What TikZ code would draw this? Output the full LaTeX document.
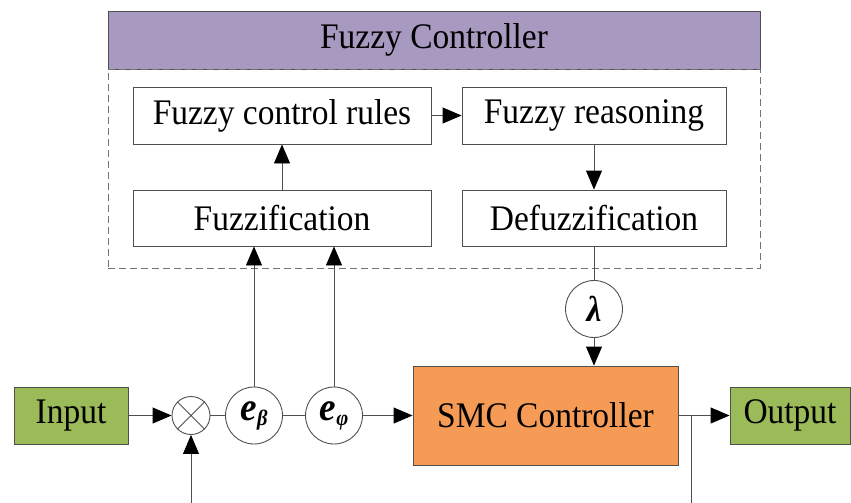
\documentclass[tikz,border=0pt]{standalone}
\usepackage{fontspec}
\setmainfont{Liberation Serif}[FakeStretch=0.93]
\usetikzlibrary{arrows.meta}
\definecolor{hdrpurple}{RGB}{168,153,192}
\definecolor{boxgreen}{RGB}{155,187,89}
\definecolor{smcorange}{RGB}{245,155,85}
\definecolor{linegray}{RGB}{80,80,80}
\begin{document}
\begin{tikzpicture}[x=1pt,y=-1pt,
  every node/.style={font=\fontsize{36}{42}\selectfont},
  blk/.style={draw=linegray,line width=0.9pt,rectangle,inner sep=0pt,minimum height=57pt},
  rnd/.style={draw=linegray,line width=0.9pt,circle,inner sep=0pt,minimum size=57pt},
  conn/.style={draw=linegray,line width=0.9pt},
  arr/.style={conn,-{Triangle[length=19pt,width=16pt,color=black]}}
]
\useasboundingbox (0,0) rectangle (851,503);
% header and dashed frame
\node[draw=linegray,line width=0.9pt,fill=hdrpurple,rectangle,minimum width=652pt,minimum height=58pt,inner sep=0pt] (hdr) at (434,40) {Fuzzy Controller};
\node[draw=linegray!80,line width=0.9pt,dash pattern=on 7pt off 4pt,rectangle,minimum width=652pt,minimum height=199pt,inner sep=0pt] (frame) at (434,168.5) {};
% fuzzy blocks
\node[blk,minimum width=298pt] (rules) at (282,115.5) {Fuzzy control rules};
\node[blk,minimum width=264pt] (reason) at (594,115.5) {Fuzzy reasoning};
\node[blk,minimum width=298pt,minimum height=56pt] (fuzz) at (282,218) {Fuzzification};
\node[blk,minimum width=264pt,minimum height=56pt] (defuzz) at (594,218) {Defuzzification};
% lambda
\node[rnd] (lam) at (594,309) {\textbf{\textit{λ}}};
% main loop
\node[blk,fill=boxgreen,minimum width=114pt] (in) at (71,415.5) {Input};
\node[draw=linegray,line width=0.9pt,circle,inner sep=0pt,minimum size=38pt] (mult) at (191,415.5) {};
\draw[linegray,line width=0.9pt] (mult.north west) -- (mult.south east) (mult.north east) -- (mult.south west);
\node[rnd] (eb) at (254,415.5) {\fontsize{40}{44}\selectfont\textbf{\textit{e}}\raisebox{-5pt}{\fontsize{22}{24}\selectfont\textbf{\textit{β}}}};
\node[rnd] (ep) at (334,415.5) {\fontsize{40}{44}\selectfont\textbf{\textit{e}}\raisebox{-5pt}{\fontsize{22}{24}\selectfont\textbf{\textit{φ}}}};
\node[blk,fill=smcorange,minimum width=265pt,minimum height=99pt] (smc) at (545.5,415.5) {SMC Controller};
\node[blk,fill=boxgreen,minimum width=120pt] (out) at (790,415.5) {Output};
\coordinate (br) at (691,415.5);
\coordinate (fbbot) at (691,503);
\coordinate (refbot) at (191,503);
% connectors
\draw[arr] (rules) -- (reason);
\draw[arr] (fuzz) -- (rules);
\draw[arr] (reason) -- (defuzz);
\draw[conn] (defuzz) -- (lam);
\draw[arr] (lam) -- (lam.south |- smc.north);
\draw[arr] (in) -- (mult);
\draw[conn] (mult) -- (eb);
\draw[conn] (eb) -- (ep);
\draw[arr] (ep) -- (smc);
\draw[arr] (smc) -- (out);
\draw[conn] (br) -- (fbbot);
\draw[arr] (refbot) -- (mult);
\draw[arr] (eb.north) -- (eb.north |- fuzz.south);
\draw[arr] (ep.north) -- (ep.north |- fuzz.south);
\end{tikzpicture}
\end{document}
